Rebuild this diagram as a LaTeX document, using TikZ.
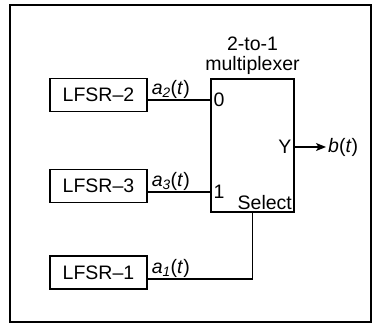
\documentclass[tikz,border=0pt]{standalone}
\usepackage{fontspec}
\setmainfont{Liberation Sans}
\usepackage{tikz}
\usetikzlibrary{arrows.meta}

\begin{document}
\begin{tikzpicture}[
			x=1pt,
			y=-1pt,
			every node/.style={font=\fontsize{19.5}{19.5}\selectfont},
			regbox/.style={draw, line width=1.2pt, minimum width=97pt, minimum height=33pt, inner sep=0pt},
			muxbox/.style={draw, line width=1.2pt, minimum width=83pt, minimum height=133pt, inner sep=0pt},
			port label/.style={inner sep=2.5pt},
			signal label/.style={inner xsep=4pt, inner ysep=1pt, anchor=south west},
			wire/.style={line width=1.2pt}
		]
		\useasboundingbox (0,0) rectangle (373,328);
		\draw[line width=1.6pt] (10,5) rectangle (371,322);

		\node[regbox] (lfsr2) at (98.5,95) {LFSR--2};
		\node[regbox] (lfsr3) at (98.5,186) {LFSR--3};
		\node[regbox] (lfsr1) at (98.5,272.5) {LFSR--1};

		\node[muxbox] (mux) at (252.5,145.5) {};
		\node[align=center, anchor=south, inner sep=4pt] (muxname) at (mux.north) {2-to-1\\multiplexer};

		\coordinate (in0) at (211,100);
		\coordinate (in1) at (211,192);
		\coordinate (sel) at (252.5,279);
		\coordinate (out) at (294,147);
		\coordinate (bout) at (326,147);

		\node[port label, anchor=west] (p0) at (in0) {0};
		\node[port label, anchor=west] (p1) at (in1) {1};
		\node[port label, anchor=south east] (psel) at (mux.south east) {Select};
		\node[port label, anchor=east] (py) at (out) {Y};

		\draw[wire] (lfsr2.east |- in0) -- (in0);
		\draw[wire] (lfsr3.east |- in1) -- (in1);
		\draw[wire] (lfsr1.east |- sel) -- (sel) -- (mux.south);
		\draw[wire, -{Stealth[length=10pt, width=8pt, inset=2.5pt]}] (out) -- (bout);

		\node[signal label] (a2) at (lfsr2.east |- in0) {\textit{a}\textsubscript{\textit{2}}(\textit{t})};
		\node[signal label] (a3) at (lfsr3.east |- in1) {\textit{a}\textsubscript{\textit{3}}(\textit{t})};
		\node[signal label] (a1) at (lfsr1.east |- sel) {\textit{a}\textsubscript{\textit{1}}(\textit{t})};
		\node[inner sep=2pt, anchor=west] (bt) at (bout) {\textit{b}(\textit{t})};
	\end{tikzpicture}
\end{document}
